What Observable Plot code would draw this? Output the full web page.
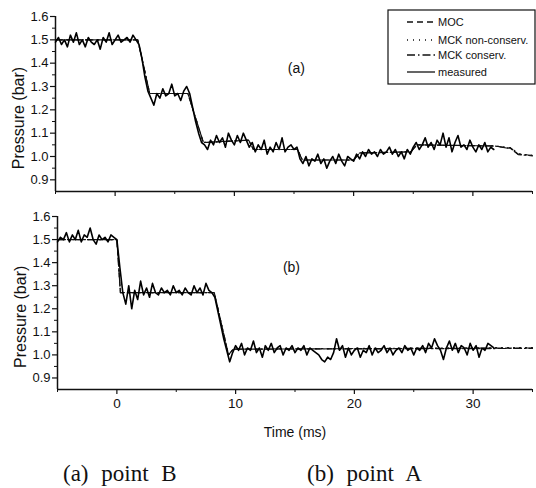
<!DOCTYPE html>
<html>
<head>
<meta charset="utf-8">
<script src="https://cdn.jsdelivr.net/npm/d3@7"></script>
<script src="https://cdn.jsdelivr.net/npm/@observablehq/plot@0.6"></script>
<style>
  html, body { margin: 0; padding: 0; background: #fff; }
  #wrap { position: relative; width: 536px; height: 488px; overflow: hidden; font-family: "Liberation Sans", Arial, sans-serif; }
  #wrap > * { position: absolute; }
  .cap { font-family: "Liberation Serif", "DejaVu Serif", serif; font-size: 23px; color: #111; word-spacing: 7px; white-space: nowrap; }
</style>
</head>
<body>
<div id="wrap"></div>
<script>
// ---------- data ----------
const sampleStart = -5;      // ms
const sampleStep = 0.25;     // ms

// Panel (a): point B, measured pressure (bar)
const measuredA = [
  1.49,1.51,1.48,1.50,1.47,1.52,1.49,1.53,1.48,1.50,1.47,1.51,1.49,1.48,1.50,1.46,1.51,1.49,1.53,1.48,1.50,1.52,1.49,1.50,1.51,1.49,1.52,1.50,
  1.48,1.42,1.34,1.28,1.25,
  1.22,1.27,1.25,1.29,1.26,1.27,1.31,1.26,1.27,1.24,1.28,1.30,
  1.27,1.21,1.15,1.10,1.06,1.05,
  1.03,1.07,1.05,1.09,1.06,1.08,1.04,1.10,1.07,1.05,1.09,1.06,1.10,1.07,
  1.04,1.06,1.02,1.05,1.03,1.07,1.01,1.04,1.02,1.06,1.03,1.08,1.02,1.04,1.05,1.03,1.04,
  0.99,0.97,1.00,0.96,0.99,0.98,1.01,0.97,0.99,0.95,0.98,1.00,0.97,1.01,0.98,0.96,1.00,0.99,0.98,
  1.01,0.99,1.02,1.00,1.03,1.01,1.02,1.00,1.03,1.01,1.02,1.04,1.01,1.03,1.00,1.02,
  0.99,1.03,1.01,1.04,
  1.06,1.03,1.05,1.08,1.04,1.06,1.03,1.07,1.05,1.10,1.04,1.08,1.02,1.06,1.09,1.04,1.05,1.03,1.07,1.04,1.02,1.05,1.03,1.06,1.02,1.04,1.03
];
// Panel (b): point A, measured pressure (bar)
const measuredB = [
  1.49,1.51,1.50,1.53,1.49,1.52,1.50,1.54,1.49,1.52,1.51,1.55,1.50,1.48,1.52,1.50,1.51,1.49,1.52,1.51,
  1.50,1.38,1.27,
  1.22,1.30,1.20,1.28,1.24,1.32,1.26,1.29,1.25,1.31,1.27,1.26,1.29,1.27,1.28,1.26,1.30,1.27,1.28,1.26,1.29,1.27,1.26,1.30,1.27,1.29,1.26,1.31,1.28,1.27,
  1.25,1.19,1.13,1.07,1.02,0.97,
  1.01,1.04,1.02,1.05,1.00,1.03,1.02,1.06,1.01,1.03,0.99,1.04,1.02,1.05,1.01,1.03,1.04,1.00,1.03,1.02,1.04,
  1.01,1.03,1.02,1.04,1.00,1.03,1.02,1.01,1.00,0.98,0.97,0.99,0.98,1.01,1.07,1.02,1.04,0.99,1.03,1.00,1.02,
  1.03,0.99,1.02,1.01,1.04,1.00,1.03,1.01,1.02,1.04,1.01,1.03,1.00,1.02,1.03,1.01,1.04,1.02,1.03,1.00,1.03,
  1.02,1.04,1.01,1.05,1.03,1.07,1.04,1.02,0.98,1.03,1.06,1.02,1.05,1.01,1.04,1.03,1.00,1.05,1.02,1.04,0.99,1.03,1.02,1.05,1.04,1.03
];

// Simulations, panel (a)
const simTimeA  = [-5, 1.9, 2.9, 6.1, 7.4, 11.2, 11.6, 15.3, 15.7, 20.0, 20.5, 24.8, 25.3, 31.8, 33.2, 33.8, 35];
const mocA      = [1.50,1.50,1.27,1.27,1.06,1.07,1.03,1.03,0.985,0.985,1.015,1.02,1.05,1.045,1.035,1.010,1.005];
const mckNonA   = [1.50,1.50,1.27,1.27,1.06,1.07,1.03,1.03,0.985,0.985,1.015,1.02,1.05,1.045,1.038,1.012,1.005];
const mckConsA  = [1.50,1.50,1.27,1.27,1.06,1.07,1.03,1.03,0.985,0.985,1.015,1.02,1.05,1.045,1.033,1.008,1.003];
// Simulations, panel (b)
const simTimeB  = [-5, 0, 0.3, 8.2, 9.4, 9.8, 35];
const mocB      = [1.50,1.50,1.27,1.27,1.00,1.025,1.030];
const mckNonB   = [1.50,1.50,1.27,1.27,1.00,1.025,1.032];
const mckConsB  = [1.50,1.50,1.27,1.27,1.00,1.025,1.028];

const seriesNames = ["MOC", "MCK non-conserv.", "MCK conserv.", "measured"];
const panelLabels = ["(a)", "(b)"];
const captions = ["(a)  point  B", "(b)  point  A"];
const yTicks = [0.9, 1.0, 1.1, 1.2, 1.3, 1.4, 1.5, 1.6];
const yMinorTicks = [0.95, 1.05, 1.15, 1.25, 1.35, 1.45, 1.55];
const xMajorTicks = [0, 10, 20, 30];
const xMinorTicks = [-5, 5, 15, 25, 35];
const xLabel = "Time (ms)";
const yLabel = "Pressure (bar)";

// ---------- build ----------
const dashes = {"MOC": "6,4", "MCK non-conserv.": "1,5", "MCK conserv.": "8,3,1.5,3", "measured": null};

function rows(vals) { return vals.map((v, i) => ({t: sampleStart + i * sampleStep, p: v})); }
function simRows(ts, vs) { return ts.map((t, i) => ({t, p: vs[i]})); }

function panel({measured, simT, sims, label, labelPos, marginLeft, height, marginBottom, bottom}) {
  const marks = [
    Plot.ruleX([-5], {y1: 0.85, y2: 1.6, stroke: "#111", strokeWidth: 1.5}),
    Plot.ruleY([0.85], {stroke: "#111", strokeWidth: 1.5}),
    Plot.axisY(yTicks, {tickSize: 5, tickPadding: 2, tickFormat: ".1f", fontSize: 13, label: null, strokeWidth: 1.2}),
    Plot.axisY(yMinorTicks, {tickSize: 3, tickFormat: () => "", label: null}),
    Plot.text([yLabel], {x: -5, y: 1.165, dx: -37, rotate: -90, fontSize: 16, fill: "#111"}),
  ];
  if (bottom) {
    marks.push(Plot.axisX(xMajorTicks, {tickSize: 5, tickPadding: 4, fontSize: 13.5, label: null, strokeWidth: 1.2}));
    marks.push(Plot.axisX(xMinorTicks, {tickSize: 3, tickFormat: () => "", label: null}));
    marks.push(Plot.text([xLabel], {x: 15, y: 0.85, dy: 43, fontSize: 14, fill: "#111"}));
  } else {
    marks.push(Plot.axisX(xMajorTicks, {tickSize: 5, tickFormat: () => "", label: null, strokeWidth: 1.2}));
    marks.push(Plot.axisX(xMinorTicks, {tickSize: 3, tickFormat: () => "", label: null}));
  }
  seriesNames.slice(0, 3).forEach((name, k) => {
    marks.push(Plot.line(simRows(simT, sims[k]), {x: "t", y: "p", stroke: "#111", strokeWidth: 1.2, strokeDasharray: dashes[name]}));
  });
  marks.push(Plot.line(rows(measured), {x: "t", y: "p", stroke: "#000", strokeWidth: 1.6}));
  marks.push(Plot.text([label], {x: labelPos[0], y: labelPos[1], fontSize: 14, fill: "#111"}));
  return Plot.plot({
    width: 536, height, marginLeft, marginRight: 4, marginTop: 16, marginBottom,
    style: {fontFamily: "'Liberation Sans', Arial, sans-serif", color: "#111", background: "transparent"},
    x: {domain: [-5, 35], axis: null},
    y: {domain: [0.85, 1.6], axis: null},
    marks
  });
}

const wrap = document.getElementById("wrap");
const pa = panel({measured: measuredA, simT: simTimeA, sims: [mocA, mckNonA, mckConsA], label: panelLabels[0], labelPos: [15.2, 1.375], marginLeft: 55, height: 200, marginBottom: 9, bottom: false});
pa.style.left = "0px"; pa.style.top = "0px";
wrap.appendChild(pa);
const pb = panel({measured: measuredB, simT: simTimeB, sims: [mocB, mckNonB, mckConsB], label: panelLabels[1], labelPos: [14.7, 1.38], marginLeft: 57, height: 250, marginBottom: 61, bottom: true});
pb.style.left = "0px"; pb.style.top = "200px";
wrap.appendChild(pb);

// legend box
const leg = d3.create("svg").attr("width", 150).attr("height", 76)
  .style("left", "387px").style("top", "9px").style("position", "absolute");
leg.append("rect").attr("x", 1).attr("y", 1).attr("width", 147).attr("height", 74)
  .attr("fill", "#fff").attr("stroke", "#111").attr("stroke-width", 1.2);
const rowY = [13, 31, 46, 63];
seriesNames.forEach((name, i) => {
  leg.append("line").attr("x1", 20).attr("x2", 48).attr("y1", rowY[i]).attr("y2", rowY[i])
    .attr("stroke", "#111").attr("stroke-width", 1.3)
    .attr("stroke-dasharray", dashes[name]);
  leg.append("text").attr("x", 51).attr("y", rowY[i]).attr("dy", "0.35em")
    .attr("font-size", 11).attr("fill", "#111")
    .attr("font-family", "'Liberation Sans', Arial, sans-serif").text(name);
});
wrap.appendChild(leg.node());

// captions
[[63, captions[0]], [307, captions[1]]].forEach(([left, txt]) => {
  const d = document.createElement("div");
  d.className = "cap";
  d.style.left = left + "px";
  d.style.top = "461px";
  d.textContent = txt;
  wrap.appendChild(d);
});
</script>
</body>
</html>
